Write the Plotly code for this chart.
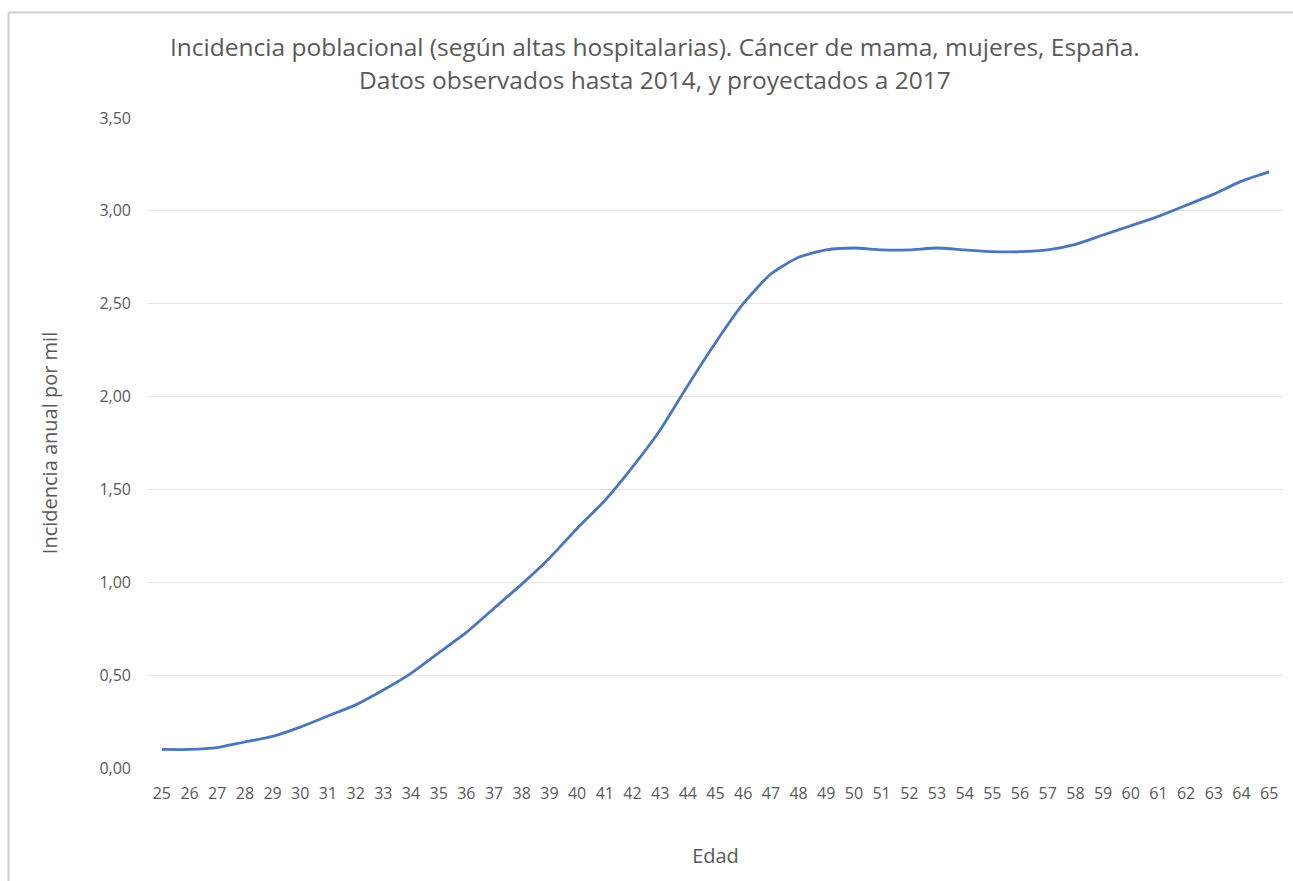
import plotly.graph_objects as go

ages = [str(a) for a in range(25, 66)]
incidence = [0.10, 0.10, 0.11, 0.14, 0.17, 0.22, 0.28, 0.34, 0.42, 0.51,
             0.62, 0.73, 0.86, 0.99, 1.13, 1.29, 1.44, 1.62, 1.82, 2.06,
             2.29, 2.50, 2.66, 2.75, 2.79, 2.80, 2.79, 2.79, 2.80, 2.79,
             2.78, 2.78, 2.79, 2.82, 2.87, 2.92, 2.97, 3.03, 3.09, 3.16, 3.21]
y_ticks = [0, 0.5, 1.0, 1.5, 2.0, 2.5, 3.0, 3.5]
y_tick_labels = ["0,00", "0,50", "1,00", "1,50", "2,00", "2,50", "3,00", "3,50"]

title_line1 = "Incidencia poblacional (según altas hospitalarias). Cáncer de mama, mujeres, España."
title_line2 = "Datos observados hasta 2014, y proyectados a 2017"

FONT = "Open Sans"
GRAY = "#595959"

fig = go.Figure()
fig.add_trace(go.Scatter(
    x=ages, y=incidence, mode="lines",
    line=dict(color="#4a76bd", width=2.8, shape="spline", smoothing=0.6),
    hoverinfo="x+y",
))

L, R, T, B = 148, 10, 118, 113
W, H = 1293, 881
pw = W - L - R
ph = H - T - B


def px(xp):
    return (xp - L) / pw


def py(yp):
    return (H - B - yp) / ph


fig.update_layout(
    width=W, height=H,
    margin=dict(l=L, r=R, t=T, b=B),
    paper_bgcolor="white", plot_bgcolor="white",
    showlegend=False,
    font=dict(family=FONT, color=GRAY),
    xaxis=dict(
        type="category", range=[-0.5, len(ages) - 0.5],
        showgrid=False, zeroline=False, showline=False,
        ticks="", tickfont=dict(size=16, color=GRAY), ticklabelstandoff=14,
        title=dict(text="Edad", font=dict(size=20, color=GRAY), standoff=45),
    ),
    yaxis=dict(
        range=[0, 3.5], tickvals=y_ticks, ticktext=y_tick_labels,
        showgrid=True, gridcolor="#e3e3e3", gridwidth=1,
        zeroline=False, showline=False, ticks="",
        tickfont=dict(size=16, color=GRAY), ticklabelstandoff=16,
        title=dict(text="Incidencia anual por mil", font=dict(size=20, color=GRAY), standoff=36),
    ),
    annotations=[
        dict(text=title_line1, xref="paper", yref="paper",
             x=px(655), y=py(47), showarrow=False,
             xanchor="center", yanchor="middle", font=dict(size=24.5, color=GRAY)),
        dict(text=title_line2, xref="paper", yref="paper",
             x=px(655), y=py(80), showarrow=False,
             xanchor="center", yanchor="middle", font=dict(size=24.5, color=GRAY)),
    ],
    shapes=[
        dict(type="line", xref="paper", yref="paper",
             x0=px(8.5), x1=px(1293), y0=py(12.5), y1=py(12.5),
             line=dict(color="#cccccc", width=2), layer="below"),
        dict(type="line", xref="paper", yref="paper",
             x0=px(8.5), x1=px(8.5), y0=py(12.5), y1=py(890),
             line=dict(color="#cccccc", width=2), layer="below"),
    ],
)

fig.write_html("out.html", config={"displayModeBar": False},
               post_script="document.body.style.margin='0';document.body.style.overflow='hidden';")
